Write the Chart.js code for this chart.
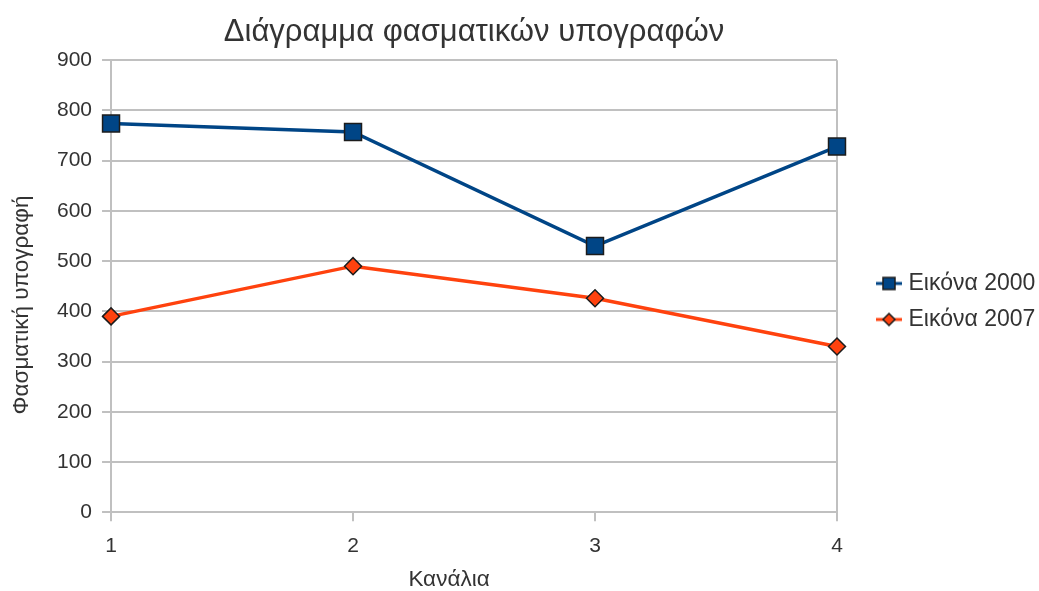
<!DOCTYPE html>
<html>
<head>
<meta charset="utf-8">
<script src="https://cdn.jsdelivr.net/npm/chart.js@4/dist/chart.umd.min.js"></script>
<style>
  html, body { margin: 0; padding: 0; background: #fff; }
  #wrap { width: 1039px; height: 591px; }
</style>
</head>
<body>
<div id="wrap"><canvas id="chart" width="1039" height="591"></canvas></div>
<script>
  // Δεδομένα
  const channels = ['1', '2', '3', '4'];
  const values2000 = [774, 757, 530, 728];
  const values2007 = [390, 490, 426, 330];
  const seriesNames = ['Εικόνα 2000', 'Εικόνα 2007'];
  const yTicks = [0, 100, 200, 300, 400, 500, 600, 700, 800, 900];

  const blue = '#004586';
  const orange = '#ff420e';
  const edge = '#1c1c1c';
  const gridColor = '#c0c0c0';
  const textColor = '#333333';
  const font = 'Liberation Sans';

  // Εικονίδια υπομνήματος: γραμμή + σημάδι
  function legendIcon(color, shape) {
    const c = document.createElement('canvas');
    c.width = 28; c.height = 18;
    const g = c.getContext('2d');
    g.strokeStyle = color;
    g.lineWidth = 3;
    g.beginPath(); g.moveTo(1, 9); g.lineTo(27, 9); g.stroke();
    g.fillStyle = color;
    g.strokeStyle = edge;
    g.lineWidth = 1.5;
    g.beginPath();
    if (shape === 'rect') {
      g.rect(8, 3, 12, 12);
    } else {
      g.moveTo(14, 3); g.lineTo(20, 9); g.lineTo(14, 15); g.lineTo(8, 9); g.closePath();
    }
    g.fill(); g.stroke();
    return c;
  }
  const icons = [legendIcon(blue, 'rect'), legendIcon(orange, 'diamond')];

  // Σταθερό πλάτος υπομνήματος
  const legendWidth = 171;
  const legendPlacement = {
    id: 'legendPlacement',
    afterInit(chart) {
      const legend = chart.legend;
      if (!legend) return;
      const fit = legend.fit.bind(legend);
      legend.fit = function () { fit(); this.width = legendWidth; };
    }
  };

  new Chart(document.getElementById('chart'), {
    type: 'line',
    plugins: [legendPlacement],
    data: {
      labels: channels,
      datasets: [
        {
          label: seriesNames[0],
          data: values2000,
          borderColor: blue,
          backgroundColor: blue,
          borderWidth: 3.5,
          pointStyle: 'rect',
          pointRadius: 12,
          pointBorderColor: edge,
          pointBorderWidth: 1.5,
          tension: 0,
        },
        {
          label: seriesNames[1],
          data: values2007,
          borderColor: orange,
          backgroundColor: orange,
          borderWidth: 3.5,
          pointStyle: 'rectRot',
          pointRadius: 8.5,
          pointBorderColor: edge,
          pointBorderWidth: 1.5,
          tension: 0,
        }
      ]
    },
    options: {
      responsive: false,
      animation: false,
      devicePixelRatio: 1,
      layout: { padding: { left: 8, right: 0, top: 0, bottom: 0 } },
      plugins: {
        title: {
          display: true,
          text: 'Διάγραμμα φασματικών υπογραφών',
          color: textColor,
          fullSize: false,
          font: { family: font, size: 31, weight: 'normal' },
          padding: { top: 14, bottom: 9 }
        },
        legend: {
          position: 'right',
          align: 'center',
          title: { display: true, text: ' ', font: { size: 10 }, padding: 0 },
          labels: {
            color: textColor,
            font: { family: font, size: 23 },
            usePointStyle: true,
            pointStyleWidth: 16,
            padding: 13,
            generateLabels: chart => chart.data.datasets.map((ds, i) => ({
              text: ds.label,
              pointStyle: icons[i],
              fontColor: textColor,
              datasetIndex: i,
              hidden: false,
              lineWidth: 0
            }))
          }
        },
        tooltip: { enabled: false }
      },
      scales: {
        x: {
          offset: false,
          grid: {
            drawOnChartArea: true,
            color: ctx => (ctx.index === channels.length - 1 ? gridColor : 'rgba(0,0,0,0)'),
            tickColor: gridColor,
            tickLength: 9,
            lineWidth: 2
          },
          border: { color: gridColor, width: 2 },
          ticks: { color: textColor, font: { family: font, size: 21 }, padding: 12.5, autoSkip: false },
          title: {
            display: true,
            // τα κενά στο τέλος μετατοπίζουν τον τίτλο λίγο αριστερά
            text: 'Κανάλια        ',
            color: textColor,
            font: { family: font, size: 22.5, lineHeight: 1 },
            padding: { top: -3, bottom: 0 }
          }
        },
        y: {
          min: 0,
          max: 900,
          afterBuildTicks: axis => { axis.ticks = yTicks.map(v => ({ value: v })); },
          grid: { color: gridColor, tickColor: gridColor, tickLength: 9, lineWidth: 2 },
          border: { color: gridColor, width: 2 },
          ticks: { color: textColor, font: { family: font, size: 21 }, padding: 10 },
          title: {
            display: true,
            text: 'Φασματική υπογραφή      ',
            color: textColor,
            font: { family: font, size: 22.5 },
            padding: { top: 0, bottom: 12 }
          }
        },
        // κενό ανάμεσα στο διάγραμμα και το υπόμνημα
        gap: {
          position: 'right',
          min: 0,
          max: 900,
          grid: { display: false, drawOnChartArea: false },
          border: { display: false },
          ticks: { display: false },
          afterFit: s => { s.width = 31; }
        }
      }
    }
  });
</script>
</body>
</html>
